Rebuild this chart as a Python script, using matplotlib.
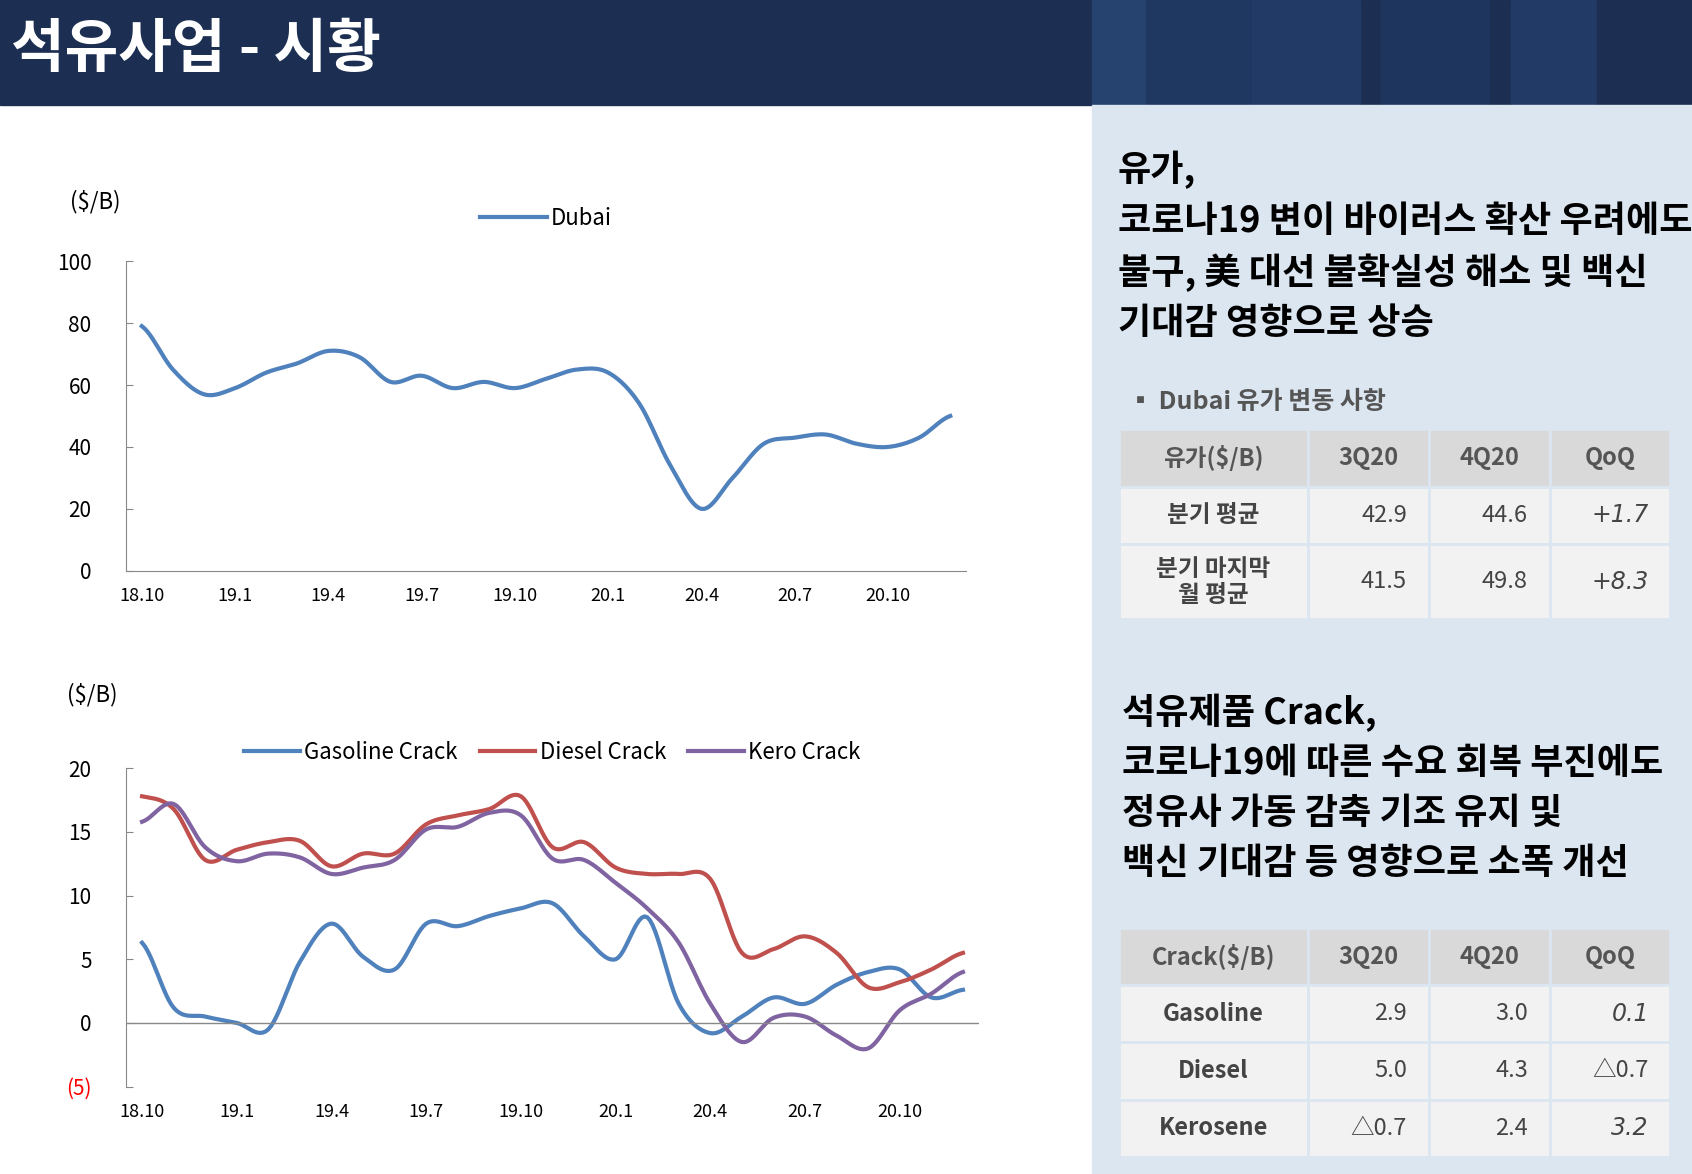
import numpy as np
import matplotlib.pyplot as plt
from matplotlib.patches import Rectangle

plt.rcParams['font.family'] = ['Noto Sans CJK KR', 'DejaVu Sans']

months = ['18.10', '18.11', '18.12', '19.1', '19.2', '19.3', '19.4', '19.5', '19.6',
          '19.7', '19.8', '19.9', '19.10', '19.11', '19.12', '20.1', '20.2', '20.3',
          '20.4', '20.5', '20.6', '20.7', '20.8', '20.9', '20.10', '20.11', '20.12']
dubai = [79, 65, 57, 59, 64, 67, 71, 69, 61, 63, 59, 61, 59, 62, 65, 64, 54, 34,
         20, 30, 41, 43, 44, 41, 40, 43, 50]
gasoline = [6.3, 1.2, 0.5, 0, -0.5, 4.8, 7.8, 5.2, 4.2, 7.8, 7.6, 8.4, 9, 9.4, 6.8,
            5, 8.3, 1.5, -0.8, 0.5, 2, 1.5, 3, 4, 4.2, 2, 2.6]
diesel = [17.8, 16.8, 12.8, 13.6, 14.2, 14.3, 12.3, 13.3, 13.3, 15.6, 16.3, 16.8,
          17.8, 13.8, 14.2, 12.2, 11.7, 11.7, 11.3, 5.5, 5.8, 6.8, 5.5, 2.8, 3.2, 4.2, 5.5]
kero = [15.8, 17.2, 13.8, 12.7, 13.3, 13, 11.7, 12.2, 12.8, 15.2, 15.4, 16.5, 16.3,
        12.9, 12.8, 11, 9, 6.3, 1.5, -1.5, 0.4, 0.5, -1, -2, 1, 2.3, 4]
tick_idx = [0, 3, 6, 9, 12, 15, 18, 21, 24]

oil_head = ['유가($/B)', '3Q20', '4Q20', 'QoQ']
oil_rows = [['분기 평균', '42.9', '44.6', '+1.7'],
            ['분기 마지막\n월 평균', '41.5', '49.8', '+8.3']]
crack_head = ['Crack($/B)', '3Q20', '4Q20', 'QoQ']
crack_rows = [['Gasoline', '2.9', '3.0', '0.1'],
              ['Diesel', '5.0', '4.3', '△0.7'],
              ['Kerosene', '△0.7', '2.4', '3.2']]

BLUE, RED, PURPLE = '#4f81bd', '#c0504d', '#8064a2'


def smooth(y, n=12):
    # Catmull-Rom curve through the points
    y = np.asarray(y, float)
    p = np.concatenate([[y[0]], y, [y[-1]]])
    xs, ys = [], []
    for i in range(len(y) - 1):
        t = np.linspace(0, 1, n, endpoint=False)
        p0, p1, p2, p3 = p[i], p[i + 1], p[i + 2], p[i + 3]
        v = 0.5 * (2 * p1 + (-p0 + p2) * t + (2 * p0 - 5 * p1 + 4 * p2 - p3) * t ** 2
                   + (-p0 + 3 * p1 - 3 * p2 + p3) * t ** 3)
        xs.append(i + t)
        ys.append(v)
    xs.append([len(y) - 1])
    ys.append([y[-1]])
    return np.concatenate(xs), np.concatenate(ys)


W, H = 1568, 1088
fig = plt.figure(figsize=(16.92, 11.74), dpi=100)

def fx(px): return px / W
def fy(py): return 1 - py / H

# header band
fig.patches.append(Rectangle((0, fy(97)), 1, 97 / H, transform=fig.transFigure, color='#1c2f52', zorder=0))
for x0, c in [(1012, '#26426e'), (1062, '#1f3861'), (1160, '#223b66'), (1280, '#1e355d'), (1400, '#223b66'), (1480, '#1c2f52')]:
    fig.patches.append(Rectangle((fx(x0), fy(97)), fx(100), 97 / H, transform=fig.transFigure, color=c, zorder=0))
fig.text(fx(10), fy(46), '석유사업 - 시황', color='white', fontsize=42, fontweight='bold', va='center')
# right panel
fig.patches.append(Rectangle((fx(1012), 0), 1 - fx(1012), fy(97), transform=fig.transFigure, color='#dce6f1', zorder=0))

# top chart
ax1 = fig.add_axes([fx(117), fy(529), fx(895 - 117), (529 - 242) / H])
x, y = smooth(dubai)
ax1.plot(x, y, color=BLUE, lw=3, label='Dubai')
ax1.set_ylim(0, 100)
ax1.set_xlim(-0.5, 26.5)
ax1.set_yticks(range(0, 101, 20))
ax1.set_xticks(tick_idx, [months[i] for i in tick_idx])
ax1.legend(loc='upper center', bbox_to_anchor=(0.5, 1.24), frameon=False, fontsize=16, handlelength=3, handletextpad=0.2)
fig.text(fx(65), fy(187), '($/B)', fontsize=16, va='center')

# bottom chart
ax2 = fig.add_axes([fx(117), fy(1007), fx(907 - 117), (1007 - 712) / H])
for s, c, lab in [(gasoline, BLUE, 'Gasoline Crack'), (diesel, RED, 'Diesel Crack'), (kero, PURPLE, 'Kero Crack')]:
    x, y = smooth(s)
    ax2.plot(x, y, color=c, lw=3, label=lab)
ax2.axhline(0, color='#888888', lw=1)
ax2.set_ylim(-5, 20)
ax2.set_xlim(-0.5, 26.5)
ax2.set_yticks([-5, 0, 5, 10, 15, 20], ['(5)', '0', '5', '10', '15', '20'])
ax2.get_yticklabels()[0].set_color('red')
ax2.set_xticks(tick_idx, [months[i] for i in tick_idx])
ax2.legend(loc='upper center', bbox_to_anchor=(0.5, 1.15), frameon=False, fontsize=16, ncol=3,
           handlelength=2.5, handletextpad=0.2, columnspacing=1.0)
fig.text(fx(62), fy(644), '($/B)', fontsize=16, va='center')

for ax in (ax1, ax2):
    for sp in ('top', 'right'):
        ax.spines[sp].set_visible(False)
    ax.spines['left'].set_color('#888888')
    ax.spines['bottom'].set_color('#888888')
    ax.tick_params(axis='y', labelsize=15, length=5, color='#888888', direction='in', pad=25)
    ax.tick_params(axis='x', labelsize=13, length=0, pad=12)
    for lb in ax.get_yticklabels():
        lb.set_horizontalalignment('right')
ax2.spines['bottom'].set_visible(False)

# right side texts
txt1 = '유가,\n코로나19 변이 바이러스 확산 우려에도\n불구, 美 대선 불확실성 해소 및 백신\n기대감 영향으로 상승'
fig.text(fx(1036), fy(140), txt1, fontsize=26, fontweight='bold', va='top', linespacing=1.45)
fig.text(fx(1045), fy(373), '▪ Dubai 유가 변동 사항', fontsize=18, fontweight='bold', color='#555555', va='center')
txt2 = '석유제품 Crack,\n코로나19에 따른 수요 회복 부진에도\n정유사 가동 감축 기조 유지 및\n백신 기대감 등 영향으로 소폭 개선'
fig.text(fx(1040), fy(643), txt2, fontsize=26, fontweight='bold', va='top', linespacing=1.45)

cols = [1037, 1212, 1324, 1436, 1548]

def table(top, head, rows, heights):
    ytop = top
    all_rows = [head] + rows
    for r, (row, h) in enumerate(zip(all_rows, heights)):
        for c in range(4):
            x0, x1 = cols[c], cols[c + 1]
            col = '#d9d9d9' if r == 0 else '#f2f2f2'
            fig.patches.append(Rectangle((fx(x0), fy(ytop + h)), fx(x1 - x0), h / H,
                                         transform=fig.transFigure, facecolor=col, edgecolor='#dce6f1', lw=2))
            t = row[c]
            if r == 0:
                fig.text(fx((x0 + x1) / 2), fy(ytop + h / 2), t, fontsize=17, fontweight='bold', color='#555555', ha='center', va='center')
            elif c == 0:
                fig.text(fx((x0 + x1) / 2), fy(ytop + h / 2), t, fontsize=17, fontweight='bold', color='#444444', ha='center', va='center', linespacing=1.1)
            else:
                fig.text(fx(x1 - 20), fy(ytop + h / 2), t, fontsize=17, color='#444444', ha='right', va='center',
                         family=['DejaVu Sans'] if c == 3 and '△' not in t else None,
                         style='italic' if c == 3 else 'normal')
        ytop += h

table(398, oil_head, oil_rows, [53, 53, 70])
table(860, crack_head, crack_rows, [53, 53, 53, 53])

fig.savefig('out.png', dpi=100)
